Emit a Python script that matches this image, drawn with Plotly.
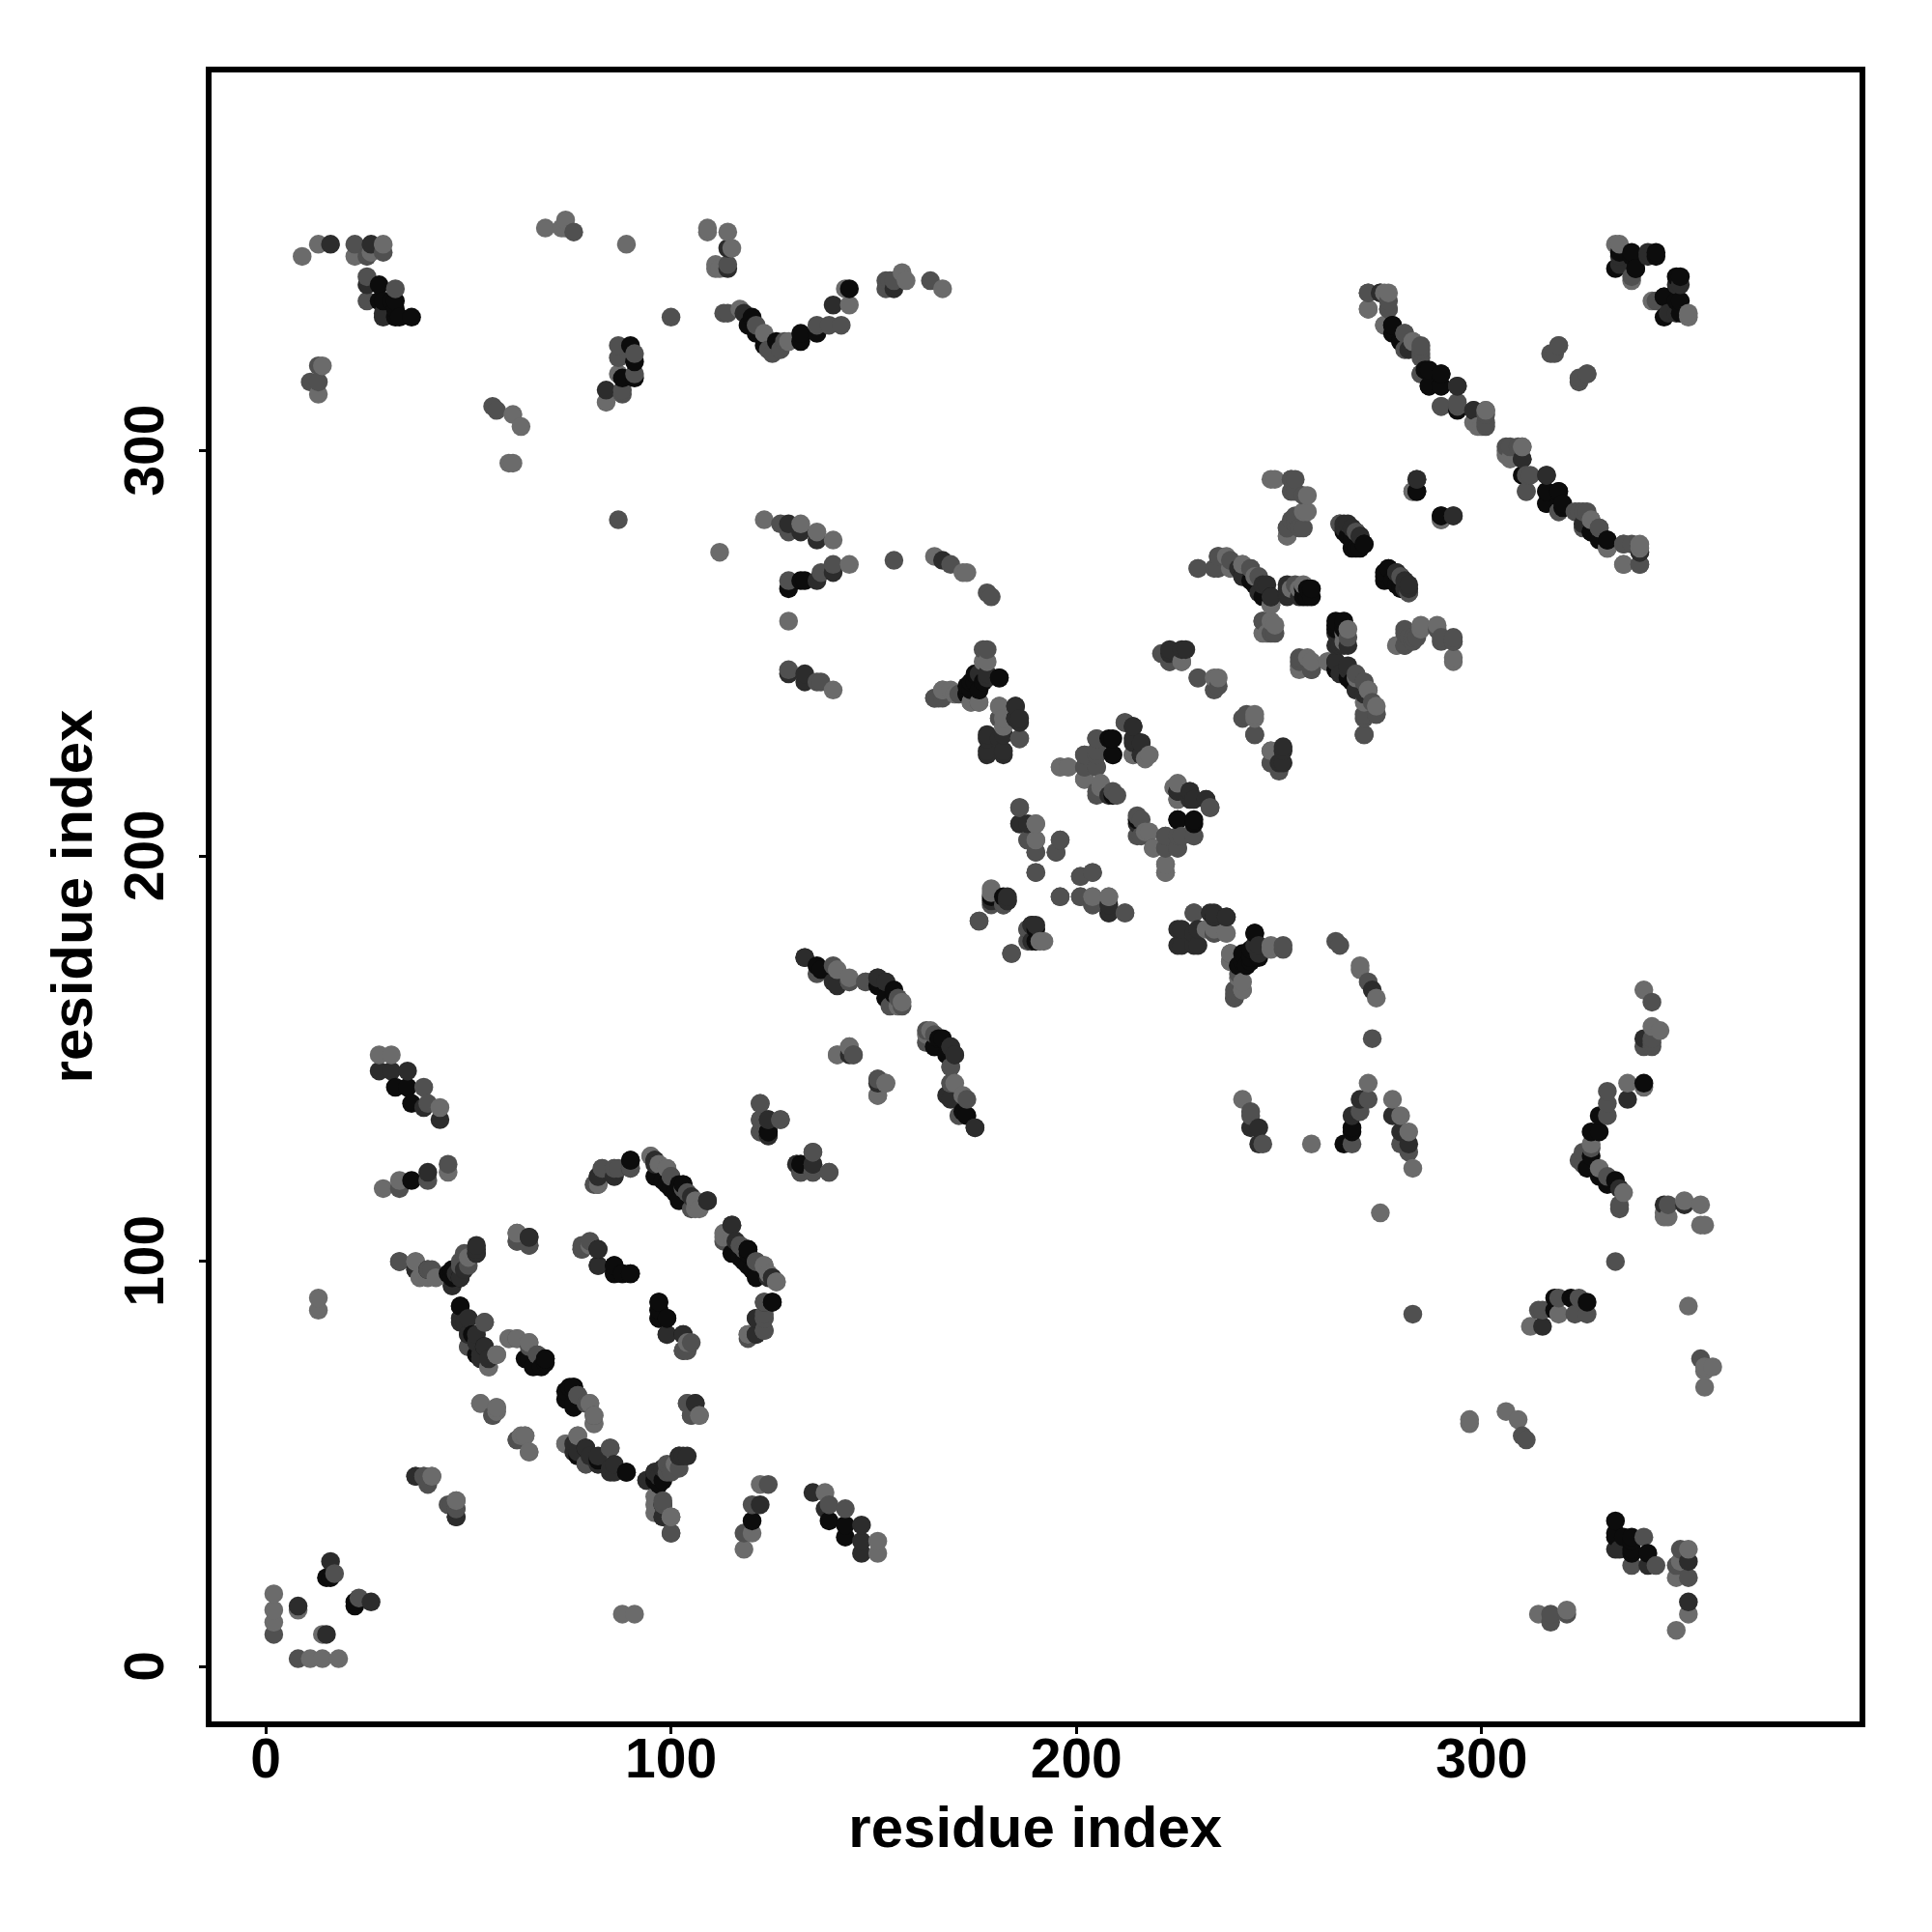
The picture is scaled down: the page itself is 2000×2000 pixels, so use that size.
import plotly.graph_objects as go

tick_values = [0, 100, 200, 300]
x_tick_labels = ["0", "100", "200", "300"]
y_tick_labels = ["0\u00a0", "100\u00a0", "200\u00a0", "300\u00a0"]
axis_label = "residue index"

light_contacts = [
(2,11),(2,14),(2,18),(8,14),(13,88),(13,91),
(9,348),(13,351),(22,348),(26,349),(29,351),(14,321),(13,314),(61,309),(63,306),(60,297),(61,297),(69,355),(74,357),(73,355),(74,355),(89,351),(87,319),(84,312),
(109,355),(109,354),(114,354),(115,350),(111,346),(111,345),(112,345),(117,335),(123,329),(129,327),(144,336),(143,340),(157,344),(158,342),(167,340),(123,283),(132,282),(136,280),(140,278),(112,275),(165,274),(172,270),
(173,270),(129,258),(140,241),(144,272),(178,248),(167,241),(169,241),(174,238),(181,237),(182,234),(182,232),
(196,222),(198,222),(206,217),(214,225),(218,225),(190,208),(179,191),(204,190),(208,190),(192,179),(224,217),(218,206),(219,202),(222,198),(222,196),(237,181),(238,176),(238,174),(248,177),(240,170),(241,167),
(249,293),(257,289),(257,285),(252,279),(244,269),(248,262),(253,266),(255,266),(249,257),(247,255),(267,256),(272,241),(274,237),(271,238),(255,246),(258,248),(262,248),(279,252),(285,256),(293,248),(244,234),(248,226),(235,244),(290,283),
(277,339),(276,331),(283,327),(300,306),(298,307),(310,301),(306,299),(339,276),(331,276),(335,272),(334,351),(337,342),(351,333),
(28,151),(31,151),(43,138),(29,118),(33,120),(45,122),(37,100),(40,96),(50,101),(62,107),(95,126),(99,123),(97,124),(82,119),(106,115),(106,113),
(113,107),(123,99),(126,95),(104,80),(141,151),(144,153),(153,144),(151,141),(163,156),(170,144),(157,164),(141,172),
(57,77),(55,74),(60,81),(65,80),(80,65),(81,62),(81,60),(77,57),(74,55),(96,42),(96,38),(100,37),(41,47),(53,65),(57,64),(57,63),(64,57),(65,53),
]

mid_contacts = [
(2,8),(17,23),
(22,351),(25,348),(32,340),(25,337),(11,317),(13,317),(13,321),(56,311),(57,310),(76,354),(87,326),(87,323),(91,324),(91,319),(88,315),(88,314),(87,283),(29,349),(25,343),
(114,346),(100,333),(114,334),(113,334),(121,331),(124,325),(125,324),(127,325),(128,327),(136,331),(139,331),(142,331),(153,340),(153,342),(155,342),(154,342),(164,342),(127,282),(129,280),(155,273),(169,272),
(178,265),(179,264),(129,268),(137,270),(140,272),(129,246),(137,243),(136,243),(178,251),(171,240),(165,239),(167,239),(176,238),(186,229),
(202,225),(202,222),(202,219),(205,229),(205,222),(205,226),(212,233),(205,215),(210,215),(186,212),(190,204),(188,204),(190,201),(196,204),(195,201),(190,196),(201,195),(204,196),(196,190),(201,190),(204,188),(212,186),(176,184),(188,182),(188,179),(184,176),(225,214),(233,212),(216,209),(216,205),(222,205),(225,205),(229,205),(225,202),(222,202),(229,186),(234,181),(251,177),(239,166),(239,165),
(253,293),(254,293),(254,290),(254,284),(256,281),(254,282),(283,290),(265,282),(282,265),(280,269),(230,271),(235,271),(235,274),(238,273),(241,272),(243,271),(246,258),(249,255),(267,254),(269,245),(271,243),(274,235),(271,234),(271,230),(255,248),(258,246),(281,252),(281,255),(283,254),(283,253),(289,256),(290,253),(293,253),(241,234),(244,230),(248,223),(250,221),(223,248),(226,248),(230,244),(235,242),(252,281),
(272,339),(272,335),(277,335),(277,337),(281,329),(281,325),(285,326),(285,324),(285,319),(290,311),(294,311),(301,310),(301,307),(306,301),(309,301),(312,294),(311,290),(319,285),(325,285),(323,285),(327,283),(329,281),(335,277),(339,272),(319,326),(318,324),(326,319),(324,317),(343,337),
(39,143),(40,139),(33,118),(40,120),(45,124),(33,100),(41,98),(48,99),(49,102),(62,105),(65,104),(78,104),(80,105),(78,103),(83,123),(86,123),(87,123),(90,123),(100,121),(103,118),(104,117),
(113,105),(121,100),(123,86),(123,83),(119,81),(103,78),(104,65),(105,62),(107,62),(122,139),(122,135),(127,135),(122,132),(135,127),(135,122),(139,122),(145,151),(151,145),(165,156),(163,154),(169,148),(173,140),(171,136),(144,169),(148,169),(157,163),(169,144),
(54,85),(50,79),(62,81),(65,79),(67,77),(77,67),(79,50),(85,54),(99,50),(100,48),(98,40),(39,47),(40,46),(47,41),(45,40),(47,39),(56,62),(62,56),
]

dark_contacts = [
(8,15),(16,26),
(16,351),(26,351),(25,341),(29,333),(29,334),(84,315),
(114,350),(114,345),(118,334),(140,336),(155,340),(132,280),(136,278),(129,282),(167,273),
(136,268),(140,270),(129,245),(133,245),(133,243),(178,245),(185,237),(181,234),(185,234),(186,234),(178,230),(182,230),(178,226),(182,226),
(214,232),(214,228),(216,228),(216,225),(186,208),(188,208),(179,189),(182,188),(183,189),(208,186),(189,183),(190,183),(228,216),(229,214),(232,214),(215,208),(233,186),(237,185),(225,182),(229,181),(225,178),(229,178),(244,178),(245,176),
(284,293),(293,284),(266,282),(268,281),(269,280),(270,279),(266,281),(279,270),(282,267),(240,271),(241,269),(246,267),(245,265),(252,266),(252,264),(255,264),(265,252),(267,252),(264,248),(267,247),(251,226),(250,223),(223,251),(227,251),
(275,339),(294,316),(298,310),(310,298),(316,294),(325,282),(339,275),(334,346),(334,348),(341,348),(349,341),
(28,147),(31,147),(35,147),(39,138),(43,135),(40,122),(37,98),(46,94),(47,97),(52,104),(52,102),(48,96),(65,106),(82,99),(82,121),(86,121),(96,124),(96,125),(109,115),
(115,109),(116,105),(125,96),(123,90),(121,86),(119,82),(121,82),(99,82),(103,82),(106,65),(124,135),(124,131),(131,124),(132,122),(135,124),(144,151),(169,153),(170,151),(169,140),(175,133),(133,175),(151,170),(141,168),(153,169),
(48,86),(50,86),(50,82),(52,82),(52,80),(54,79),(55,76),(76,53),(77,53),(85,49),(85,48),(82,50),(94,46),(102,52),(103,52),(98,49),(98,37),(100,33),(37,47),(47,37),
]

black_contacts = [
(15,22),(16,22),
(28,341),(28,337),(29,337),(32,337),(31,337),(32,333),(33,333),(36,333),(32,335),(90,326),(91,322),(91,318),(88,318),
(120,333),(119,331),(121,329),(123,326),(126,327),(132,329),(132,327),(136,329),(144,340),
(129,266),(132,268),(133,268),(181,244),(175,245),(173,242),(175,243),(177,243),(173,240),
(209,229),(209,225),(209,215),(182,190),(190,179),(225,216),(229,208),(225,209),(234,185),(244,181),(241,176),(240,173),(243,174),(241,174),
(284,290),(290,284),(271,277),(269,276),(267,279),(276,270),(276,268),(277,271),(280,266),(278,268),(243,268),(248,264),(257,266),(257,264),(256,266),(264,258),(266,258),(264,256),(264,246),(269,241),(267,244),
(278,331),(278,329),(280,327),(287,320),(290,319),(287,316),(290,316),(294,310),(316,290),(319,290),(316,287),(320,286),(327,280),(331,278),(337,348),(343,348),(338,345),(349,343),(345,338),(349,337),(345,333),(349,334),
(32,143),(35,143),(36,139),(36,120),(40,98),(45,97),(82,103),(86,99),(86,97),(90,97),(88,97),(90,125),(102,119),(103,119),(98,120),(100,118),(101,117),
(119,103),(115,102),(119,99),(121,96),(125,90),(97,90),(97,88),(99,86),(97,86),(124,132),(132,124),(166,155),(165,153),(173,136),(137,172),(155,167),(151,168),(153,165),
(48,89),(52,77),(69,76),(68,74),(64,76),(75,69),(76,69),(74,66),(76,65),(79,54),(82,51),(89,48),(96,48),(96,46),(98,46),
]

shade_groups = [(black_contacts, "#0c0c0c"), (dark_contacts, "#2c2c2c"),
                (mid_contacts, "#505050"), (light_contacts, "#6b6b6b")]

points = []
for contacts, colour in shade_groups:
    for a, b in contacts:
        points.append((a, b, colour))
        points.append((b, a, colour))
points.sort(key=lambda p: (p[0], p[1]))

fig = go.Figure(go.Scatter(
    x=[p[0] for p in points], y=[p[1] for p in points], mode="markers",
    marker=dict(size=19.5, color=[p[2] for p in points], line=dict(width=0)),
    hoverinfo="skip", showlegend=False))

font = "Liberation Sans"
axis_common = dict(
    showgrid=False, zeroline=False, showline=True, mirror=True,
    linecolor="black", linewidth=6, ticks="outside", ticklen=7, tickwidth=3,
    tickcolor="black", tickvals=tick_values,
    tickfont=dict(family=font, size=57, color="black", weight=700),
)
title_font = dict(family=font, size=60, color="black", weight=700)
fig.update_xaxes(range=[-13.35, 393.1], domain=[219/2000, 1924.5/2000],
                 ticklabelstandoff=-23, ticktext=x_tick_labels,
                 title=dict(text=axis_label, standoff=21, font=title_font),
                 **axis_common)
fig.update_yaxes(range=[-13.35, 393.5], domain=[(2000-1781.5)/2000, (2000-74.5)/2000],
                 tickangle=-90, ticklabelstandoff=14, ticktext=y_tick_labels,
                 title=dict(text=axis_label, standoff=4, font=title_font),
                 **axis_common)
fig.update_layout(width=2000, height=2000, margin=dict(l=0, r=0, t=0, b=0),
                  paper_bgcolor="white", plot_bgcolor="white")
fig.write_html("out.html", config=dict(displayModeBar=False),
               post_script="document.body.style.margin='0';")
